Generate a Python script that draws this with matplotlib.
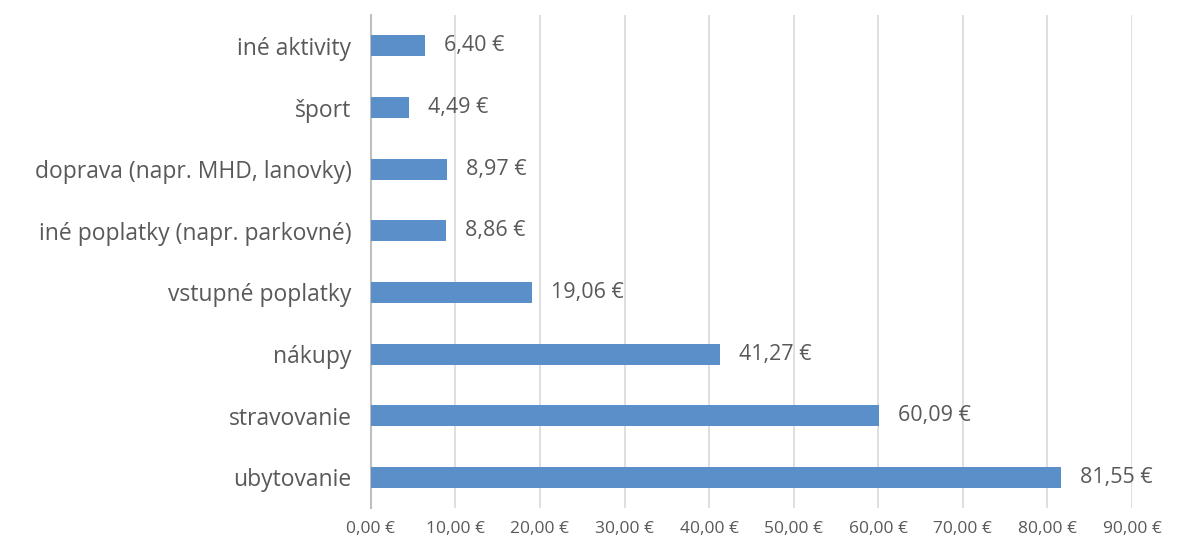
import matplotlib.pyplot as plt
from matplotlib.ticker import FuncFormatter

categories = [
    'ubytovanie',
    'stravovanie',
    'nákupy',
    'vstupné poplatky',
    'iné poplatky (napr. parkovné)',
    'doprava (napr. MHD, lanovky)',
    'šport',
    'iné aktivity',
]
values = [81.55, 60.09, 41.27, 19.06, 8.86, 8.97, 4.49, 6.40]
x_ticks = [0, 10, 20, 30, 40, 50, 60, 70, 80, 90]


def euro(v):
    return f'{v:.2f}'.replace('.', ',') + ' €'


plt.rcParams['font.family'] = ['Open Sans', 'DejaVu Sans']
text_color = '#595959'
bar_color = '#5b8fc9'

fig = plt.figure(figsize=(11.81, 5.40), dpi=100)
ax = fig.add_axes([0.314, 0.059, 0.6445, 0.913])

pos = range(len(categories))
ax.barh(pos, values, height=0.34, color=bar_color, zorder=3)

for p, v in zip(pos, values):
    ax.annotate(euro(v), xy=(v, p), xytext=(14, 0), textcoords='offset points',
                va='center', ha='left', fontsize=15.5, color=text_color)

ax.set_xlim(0, 90)
ax.set_ylim(-0.5, len(categories) - 0.5)
ax.set_yticks(list(pos))
ax.set_yticklabels(categories, fontsize=16.5, color=text_color)
ax.set_xticks(x_ticks)
ax.xaxis.set_major_formatter(FuncFormatter(lambda v, _: euro(v)))
ax.tick_params(axis='x', labelsize=12.5, colors=text_color, length=0, pad=9)
ax.tick_params(axis='y', length=0, pad=14)

ax.grid(axis='x', color='#d9d9d9', linewidth=1.2, zorder=0)
for s in ['top', 'right', 'bottom']:
    ax.spines[s].set_visible(False)
ax.spines['left'].set_color('#bfbfbf')
ax.spines['left'].set_linewidth(1.5)

fig.savefig('out.png', dpi=100)
